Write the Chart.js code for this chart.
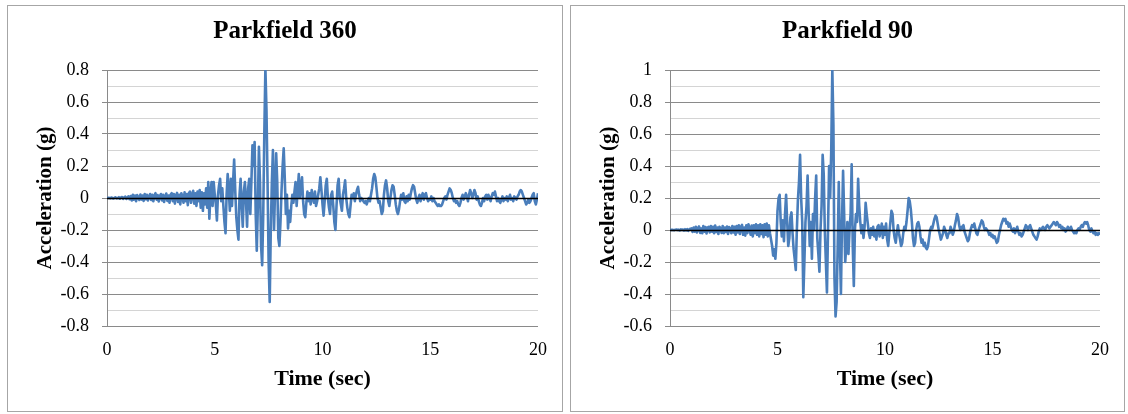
<!DOCTYPE html>
<html>
<head>
<meta charset="utf-8">
<script src="https://cdn.jsdelivr.net/npm/chart.js@4.4.1/dist/chart.umd.min.js"></script>
<style>
  body { margin: 0; background: #fff; width: 1128px; height: 414px; position: relative; overflow: hidden; }
  .box { position: absolute; top: 5px; height: 407px; border: 1px solid #a6a6a6; box-sizing: border-box; background: #fff; }
  .box canvas { position: absolute; left: 0; top: 0; }
</style>
</head>
<body>
<div class="box" style="left:7px; width:556px;"><canvas id="chart360" width="554" height="405"></canvas></div>
<div class="box" style="left:570px; width:555px;"><canvas id="chart90" width="553" height="405"></canvas></div>

<script>
// Sampling step of both records (sec)
const DT = 0.05;

// Parkfield 360 acceleration (g), one row per second
const accel360 = [
  0, 0.002, 0.001, -0.002, 0.003, 0, -0.003, 0.002, 0.004, -0.002, 0, 0.005, -0.004, 0.003, 0.006, -0.005, 0.004, 0.008, -0.006, 0.005,
  0.01, -0.008, 0.012, -0.015, 0.02, -0.01, 0.015, -0.02, 0.018, 0.005, -0.012, 0.022, -0.01, 0.015, -0.018, 0.025, -0.008, 0.02, -0.015, 0.01,
  0.025, -0.012, 0.02, -0.02, 0.015, 0.03, -0.01, 0.018, -0.022, 0.012, 0.025, -0.015, 0.02, -0.025, 0.01, 0.028, -0.018, 0.015, -0.03, 0.02,
  0.03, -0.02, 0.025, -0.035, 0.015, 0.032, -0.025, 0.02, -0.04, 0.03, 0.01, -0.03, 0.035, -0.02, 0.025, -0.045, 0.03, 0.04, -0.03, 0.02,
  0.045, -0.035, 0.03, -0.05, 0.04, -0.02, 0.05, -0.06, 0.035, -0.08, 0.03, -0.04, 0.06, -0.06, 0.1, -0.13, 0.02, 0.1, -0.05, 0.1,
  0.02, -0.04, -0.14, 0.02, 0.08, 0.12, -0.02, 0.06, -0.05, -0.15, -0.22, 0.02, 0.15, 0.05, -0.08, 0.12, -0.05, 0.1, 0.24, 0.05,
  -0.12, -0.2, -0.26, 0.02, 0.12, -0.05, -0.18, 0.04, 0.1, -0.02, -0.18, 0.06, 0.12, -0.1, 0.1, 0.33, 0.2, 0.35, -0.1, -0.33,
  -0.05, 0.32, 0.1, -0.3, -0.42, -0.1, 0.4, 0.81, 0.55, 0.1, -0.4, -0.65, -0.2, 0.1, 0.3, -0.2, 0.05, 0.28, 0.1, -0.25,
  -0.3, -0.15, 0.05, 0.2, 0.31, 0.12, -0.1, 0.02, -0.19, -0.08, -0.15, -0.05, 0.02, -0.03, 0.04, 0.1, -0.05, 0.05, 0.15, 0.0,
  0.06, 0.13, -0.02, -0.1, -0.12, -0.03, 0.04, -0.02, 0.03, -0.04, 0.05, 0.0, -0.03, 0.04, -0.05, -0.02, 0.02, 0.06, 0.13, 0.05,
  -0.04, -0.11, -0.02, 0.08, 0.12, 0.0, -0.06, -0.1, 0.02, 0.04, -0.05, -0.15, -0.2, -0.05, 0.08, 0.12, 0.0, -0.04, -0.08, 0.02,
  0.06, 0.11, 0.0, -0.06, -0.1, -0.12, -0.05, 0.02, 0.0, 0.03, -0.02, 0.02, 0.05, 0.07, 0.02, -0.02, 0.0, -0.01, -0.02, -0.03,
  -0.02, -0.04, -0.02, 0.0, -0.02, 0.02, 0.06, 0.12, 0.15, 0.13, 0.07, 0.0, -0.03, -0.02, -0.06, -0.1, -0.08, 0.02, 0.08, 0.11,
  0.06, -0.02, -0.05, 0.0, 0.05, 0.08, 0.07, 0.02, -0.04, -0.08, -0.1, -0.07, -0.02, 0.02, -0.01, 0.03, -0.02, -0.03, 0.01, -0.02,
  0.02, -0.01, 0.03, 0.06, 0.08, 0.07, 0.03, -0.01, -0.03, 0.0, 0.02, -0.02, 0.01, 0.03, -0.01, 0.02, 0.03, 0.0, -0.02, -0.01,
  -0.01, 0.01, -0.02, 0.0, -0.02, -0.03, -0.04, -0.05, -0.04, -0.05, -0.05, -0.04, -0.02, 0.0, 0.01, -0.01, 0.02, 0.04, 0.06, 0.05,
  0.03, 0.0, -0.02, -0.01, -0.03, -0.02, -0.04, -0.05, -0.03, 0.0, 0.02, -0.01, 0.01, 0.03, 0.01, -0.02, 0.02, 0.05, 0.03, 0.0,
  0.02, 0.05, 0.03, -0.01, 0.01, -0.02, -0.04, -0.05, -0.03, 0.0, -0.02, 0.01, 0.02, -0.01, 0.02, 0.0, -0.02, 0.01, 0.03, 0.02,
  0.04, 0.01, -0.02, 0.0, -0.02, -0.03, -0.01, 0.01, -0.02, 0.0, -0.01, 0.01, -0.02, 0.0, 0.02, -0.01, 0.0, -0.02, 0.01, 0.0,
  -0.01, 0.01, 0.02, 0.04, 0.05, 0.04, 0.02, 0.0, -0.02, -0.04, -0.03, -0.01, -0.03, -0.02, 0.0, 0.02, 0.03, -0.02, -0.04, -0.01,
  0.03
];

// Parkfield 90 acceleration (g), one row per second
const accel90 = [
  0, 0.001, 0.002, 0.0, -0.001, 0.002, 0.003, 0.0, 0.002, -0.003, 0.004, 0.0, 0.003, -0.004, 0.005, -0.002, 0.006, -0.005, 0.004, 0.008,
  0.01, -0.012, 0.015, -0.01, 0.02, -0.015, 0.012, 0.022, -0.018, 0.01, -0.02, 0.025, -0.01, 0.018, -0.022, 0.015, 0.02, -0.015, 0.025, -0.01,
  0.02, -0.02, 0.028, -0.012, 0.015, -0.025, 0.02, 0.01, -0.018, 0.025, -0.02, 0.015, -0.012, 0.022, -0.025, 0.018, 0.01, -0.02, 0.025, -0.015,
  0.02, -0.03, 0.025, -0.015, 0.03, -0.025, 0.02, 0.032, -0.03, 0.015, -0.035, 0.03, -0.02, 0.035, 0.01, -0.03, 0.028, -0.04, 0.03, -0.02,
  0.035, -0.03, 0.03, -0.04, 0.035, -0.025, 0.03, -0.045, 0.035, -0.03, 0.04, -0.04, 0.03, -0.02, -0.06, -0.1, -0.16, -0.12, -0.18, -0.08,
  0.12, 0.2, 0.22, 0.05, -0.04, 0.06, -0.07, 0.1, 0.22, 0.05, -0.1, -0.05, 0.08, 0.11, -0.02, -0.12, -0.18, -0.25, 0.0, 0.19,
  0.3, 0.47, 0.2, 0.05, -0.42, -0.2, 0.05, 0.15, 0.34, 0.1, -0.1, 0.05, -0.18, 0.1, 0.0, 0.2, 0.34, -0.05, -0.15, -0.26,
  0.0, 0.15, 0.47, 0.35, 0.0, -0.2, -0.39, 0.0, 0.4, 0.2, 0.5, 1.0, 0.66, -0.3, -0.54, -0.45, -0.1, 0.3, -0.1, -0.4,
  0.05, 0.37, 0.1, -0.2, -0.1, 0.05, -0.15, 0.0, 0.1, 0.41, -0.1, -0.35, 0.0, 0.1, 0.05, 0.32, 0.15, 0.05, -0.02, 0.03,
  -0.05, 0.02, 0.17, 0.1, 0.04, -0.02, -0.05, 0.01, -0.03, 0.02, -0.04, 0.0, -0.06, 0.02, 0.03, -0.04, 0.0, 0.04, -0.05, 0.02,
  -0.03, 0.04, -0.06, -0.1, -0.02, 0.05, 0.12, 0.1, 0.0, -0.05, -0.08, -0.02, 0.03, -0.02, -0.06, -0.1, -0.08, -0.02, 0.02, 0.0,
  0.05, 0.12, 0.2, 0.18, 0.13, 0.05, -0.05, -0.1, -0.08, 0.0, 0.04, 0.05, 0.02, -0.04, -0.08, -0.06, -0.1, -0.08, -0.11, -0.12,
  -0.1, -0.05, 0.0, 0.02, 0.01, 0.04, 0.07, 0.09, 0.08, 0.04, 0.0, -0.03, -0.06, -0.04, -0.02, 0.02, 0.0, -0.03, -0.05, -0.02,
  -0.02, 0.02, 0.0, -0.03, -0.01, 0.03, 0.06, 0.1, 0.08, 0.03, 0.0, 0.02, 0.01, 0.03, -0.01, -0.03, -0.05, -0.07, -0.06, -0.02,
  0.01, 0.03, 0.02, 0.04, 0.01, -0.02, -0.03, 0.0, 0.02, 0.04, 0.06, 0.05, 0.02, 0.0, 0.01, 0.0, -0.01, -0.03, -0.02, -0.04,
  -0.03, -0.05, -0.04, -0.06, -0.08, -0.07, -0.03, 0.0, 0.03, 0.05, 0.07, 0.06, 0.07, 0.04, 0.05, 0.02, 0.04, 0.02, 0.0, -0.01,
  0.01, -0.02, 0.0, 0.02, -0.01, -0.03, -0.02, -0.04, -0.03, -0.01, 0.01, 0.03, 0.02, 0.0, 0.02, 0.03, 0.01, -0.01, -0.03, -0.04,
  -0.05, -0.06, -0.04, -0.01, 0.01, 0.0, 0.01, 0.02, 0.01, 0.0, 0.02, 0.03, 0.02, 0.01, 0.02, 0.03, 0.04, 0.05, 0.04, 0.03,
  0.05, 0.04, 0.02, 0.03, 0.01, 0.02, 0.0, 0.01, -0.01, 0.0, 0.02, 0.01, 0.0, 0.02, 0.0, -0.01, -0.02, -0.01, -0.02, 0.0,
  0.01, 0.0, 0.02, 0.03, 0.02, 0.04, 0.05, 0.04, 0.05, 0.03, 0.0, -0.01, 0.01, -0.01, -0.02, -0.01, -0.03, -0.02, -0.03, -0.02,
  -0.03
];

// Axis ranges / ticks
const timeRange = [0, 20];
const timeStep = 5;
const range360 = [-0.8, 0.8];
const range90 = [-0.6, 1];
const accelStep = 0.1; // minor gridlines, labels every 0.2

const LINE_COLOR = '#4a7ebb';
const MAJOR_GRID = '#8a8a8a';
const MINOR_GRID = '#d4d4d4';
const SERIF = "'Liberation Serif', 'Times New Roman', serif";

Chart.defaults.font.family = SERIF;
Chart.defaults.color = '#000';

// Black horizontal axis line at y = 0, drawn over the trace like Excel does
const zeroLine = {
  id: 'zeroLine',
  afterDatasetsDraw(chart) {
    const { ctx, chartArea, scales } = chart;
    const y = Math.round(scales.y.getPixelForValue(0)) + 0.5;
    ctx.save();
    ctx.strokeStyle = '#000';
    ctx.lineWidth = 1.5;
    ctx.beginPath();
    ctx.moveTo(chartArea.left, y);
    ctx.lineTo(chartArea.right, y);
    ctx.stroke();
    ctx.restore();
  }
};

function tenths(v) {
  return Math.round(v * 10);
}

function createChart(canvasId, title, values, yRange) {
  const points = values.map((v, i) => ({ x: i * DT, y: v }));

  return new Chart(document.getElementById(canvasId), {
    type: 'line',
    data: {
      datasets: [{
        data: points,
        borderColor: LINE_COLOR,
        borderWidth: 2.6,
        borderJoinStyle: 'round',
        pointRadius: 0,
        tension: 0,
        fill: false
      }]
    },
    options: {
      responsive: false,
      animation: false,
      layout: { padding: 0 },
      plugins: {
        legend: { display: false },
        tooltip: { enabled: false },
        title: {
          display: true,
          text: title,
          color: '#000',
          font: { size: 25, weight: 'bold' },
          padding: { top: 11, bottom: 23 }
        }
      },
      scales: {
        x: {
          type: 'linear',
          min: timeRange[0],
          max: timeRange[1],
          afterFit: s => { s.height = 85; },
          grid: { display: false, drawTicks: false },
          border: { display: false },
          ticks: { stepSize: timeStep, padding: 13, font: { size: 18 }, color: '#000' },
          title: {
            display: true,
            text: 'Time (sec)',
            color: '#000',
            font: { size: 22, weight: 'bold' },
            padding: { top: 0, bottom: 18 }
          }
        },
        y: {
          min: yRange[0],
          max: yRange[1],
          afterFit: s => { s.width = 99; },
          grid: {
            color: c => {
              const n = tenths(c.tick.value);
              if (n === 0) return '#000';
              return n % 2 === 0 ? MAJOR_GRID : MINOR_GRID;
            },
            tickColor: c => tenths(c.tick.value) % 2 === 0 ? MAJOR_GRID : 'rgba(0,0,0,0)',
            tickLength: 5
          },
          border: { display: true, color: MAJOR_GRID },
          ticks: {
            stepSize: accelStep,
            autoSkip: false,
            padding: 13,
            font: { size: 18 },
            color: '#000',
            callback: v => {
              const n = tenths(v);
              return n % 2 === 0 ? String(n / 10) : '';
            }
          },
          title: {
            display: true,
            text: 'Acceleration (g)',
            color: '#000',
            font: { size: 21, weight: 'bold' },
            padding: { top: 25, bottom: 0 }
          }
        },
        // empty right-hand axis that only reserves the margin on the right,
        // so the title stays centred on the whole panel
        spacer: {
          type: 'linear',
          position: 'right',
          display: true,
          afterFit: s => { s.width = 24; },
          grid: { display: false, drawTicks: false },
          border: { display: false },
          ticks: { display: false }
        }
      }
    },
    plugins: [zeroLine]
  });
}

createChart('chart360', 'Parkfield 360', accel360, range360);
createChart('chart90', 'Parkfield 90', accel90, range90);
</script>
</body>
</html>
